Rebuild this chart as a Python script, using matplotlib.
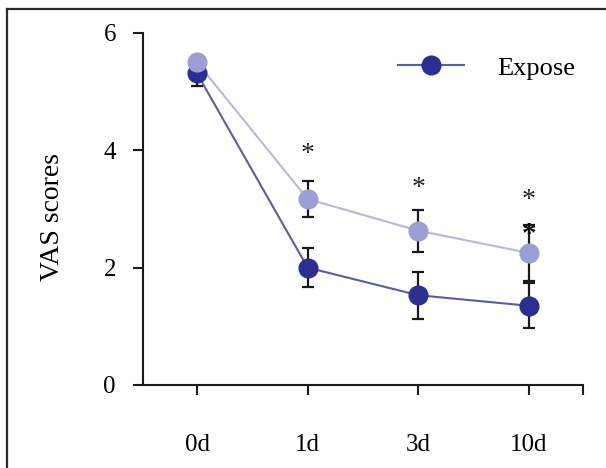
import matplotlib
matplotlib.use("Agg")
import matplotlib.pyplot as plt
from matplotlib.lines import Line2D

# ── data ──
days = ["0d", "1d", "3d", "10d"]
expose_mean = [5.31, 2.0, 1.53, 1.35]
expose_err = [0.22, 0.33, 0.40, 0.38]
control_mean = [5.5, 3.17, 2.63, 2.25]
control_err = [0.08, 0.31, 0.36, 0.47]
star_y = [4.0, 3.42, 3.22]
star_x = [1, 2, 3]
bold_star = (3, 2.70)

DARK = "#2b2f8f"
DARK_LINE = "#5a5ca6"
LIGHT = "#9c9fd3"
LIGHT_LINE = "#b5b7dc"

plt.rcParams["font.family"] = ["Liberation Serif", "DejaVu Serif"]

fig = plt.figure(figsize=(6.06, 4.68), dpi=100)
ax = fig.add_axes([0.236, 0.1774, 0.726, 0.7521])

x = list(range(len(days)))

# error bars underneath the markers
ax.errorbar(x, expose_mean, yerr=expose_err, fmt="none", ecolor="#1a1a1a",
            elinewidth=1.6, capsize=4.5, capthick=1.6, zorder=2)
ax.errorbar(x, control_mean, yerr=control_err, fmt="none", ecolor="#1a1a1a",
            elinewidth=1.6, capsize=4.5, capthick=1.6, zorder=2)

ax.plot(x, expose_mean, color=DARK_LINE, lw=1.5, zorder=3)
ax.plot(x, expose_mean, "o", color=DARK, ms=13.5, mec=DARK, zorder=4)
ax.plot(x, control_mean, color=LIGHT_LINE, lw=1.5, zorder=3)
ax.plot(x, control_mean, "o", color=LIGHT, ms=13.5, mec=LIGHT, zorder=5)

# significance marks (the glyph sits high in its box, so nudge it down)
for sx, sy in zip(star_x, star_y):
    ax.annotate("*", (sx, sy), xytext=(0, -3), textcoords="offset points",
                ha="center", va="center", fontsize=20, color="#222222")
ax.annotate("*", bold_star, xytext=(0, -6), textcoords="offset points",
            ha="center", va="center", fontsize=21, fontweight="bold",
            color="#111111", zorder=6)

ax.set_xlim(-0.488, 3.488)
ax.set_ylim(0, 6)
ax.set_yticks([0, 2, 4, 6])
ax.set_xticks(x)
ax.set_xticklabels(days)
ax.set_xticks([3.488], minor=True)

for side in ["top", "right"]:
    ax.spines[side].set_visible(False)
for side in ["left", "bottom"]:
    ax.spines[side].set_linewidth(1.5)
    ax.spines[side].set_color("#1a1a1a")

ax.tick_params(axis="y", direction="out", length=7.5, width=1.5, pad=12,
               labelsize=18, color="#1a1a1a")
ax.tick_params(axis="x", which="both", direction="out", length=7, width=1.5,
               pad=28, labelsize=18, color="#1a1a1a")

ax.set_ylabel("VAS scores", fontsize=20)
ax.yaxis.set_label_coords(-0.177, 0.477)

legend_handle = Line2D([], [], color=DARK_LINE, lw=1.5, marker="o", ms=13.5,
                       mfc=DARK, mec=DARK)
ax.legend([legend_handle], ["Expose"], loc="center left",
          bbox_to_anchor=(0.5795, 0.9006), frameon=False, borderpad=0,
          borderaxespad=0, handlelength=2.5, handletextpad=1.25, fontsize=19)

# partial frame around the figure (left and top edges)
fig.add_artist(Line2D([7 / 606, 7 / 606], [0, 1 - 9 / 468], color="#2a2a2a",
                      lw=1.6, transform=fig.transFigure))
fig.add_artist(Line2D([7 / 606, 1], [1 - 9 / 468, 1 - 9 / 468], color="#2a2a2a",
                      lw=1.6, transform=fig.transFigure))

fig.savefig("out.png", dpi=100)
